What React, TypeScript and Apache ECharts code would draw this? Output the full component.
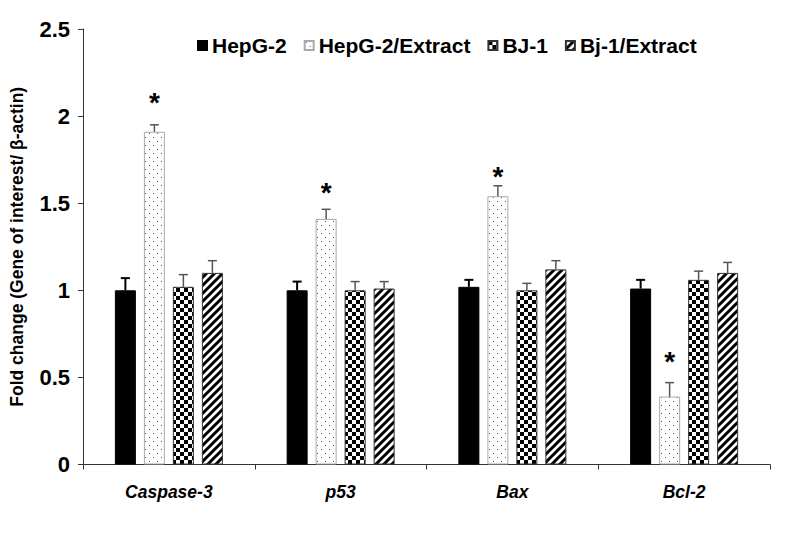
import React, { useEffect, useRef } from 'react';
import * as echarts from 'echarts';

const categories = ['Caspase-3', 'p53', 'Bax', 'Bcl-2'];
const seriesNames = ['HepG-2', 'HepG-2/Extract', 'BJ-1', 'Bj-1/Extract'];

const hepg2 = [1.0, 1.0, 1.02, 1.01];
const hepg2Err = [0.07, 0.05, 0.04, 0.05];
const hepg2Extract = [1.91, 1.41, 1.54, 0.39];
const hepg2ExtractErr = [0.04, 0.055, 0.06, 0.08];
const bj1 = [1.02, 1.0, 1.0, 1.06];
const bj1Err = [0.07, 0.05, 0.04, 0.05];
const bj1Extract = [1.1, 1.01, 1.12, 1.1];
const bj1ExtractErr = [0.07, 0.04, 0.05, 0.06];

// significance markers (*) drawn above HepG-2/Extract bars, at these y levels
const asteriskLevels = [2.1, 1.58, 1.67, 0.61];

const yMin = 0;
const yMax = 2.5;
const yInterval = 0.5;

const FONT = '"Liberation Sans", Arial, sans-serif';
const BAR_W = 21;
const BAR_GAP = 8;

function makeTile(w: number, h: number, draw: (ctx: CanvasRenderingContext2D) => void) {
  const c = document.createElement('canvas');
  c.width = w;
  c.height = h;
  const ctx = c.getContext('2d')!;
  ctx.fillStyle = '#ffffff';
  ctx.fillRect(0, 0, w, h);
  draw(ctx);
  return { image: c, repeat: 'repeat', imageWidth: w, imageHeight: h } as any;
}

export default function App() {
  const ref = useRef<HTMLDivElement>(null);
  useEffect(() => {
    if (!ref.current) return;
    const chart = echarts.init(ref.current, undefined, { renderer: 'svg' });

    const dots = makeTile(8, 8, (ctx) => {
      ctx.fillStyle = '#555';
      ctx.fillRect(1, 1, 1, 1);
      ctx.fillRect(5, 5, 1, 1);
    });
    const checker = makeTile(8, 8, (ctx) => {
      ctx.fillStyle = '#000';
      ctx.fillRect(0, 0, 4, 4);
      ctx.fillRect(4, 4, 4, 4);
    });
    const stripes = makeTile(8, 8, (ctx) => {
      ctx.strokeStyle = '#000';
      ctx.lineWidth = 3;
      ctx.beginPath();
      ctx.moveTo(-2, 10); ctx.lineTo(10, -2);
      ctx.moveTo(-6, 6); ctx.lineTo(6, -6);
      ctx.moveTo(2, 14); ctx.lineTo(14, 2);
      ctx.stroke();
    });

    const values = [hepg2, hepg2Extract, bj1, bj1Extract];
    const errors = [hepg2Err, hepg2ExtractErr, bj1Err, bj1ExtractErr];
    const fills: any[] = ['#000000', dots, checker, stripes];
    const borders = ['#000000', '#aaaaaa', '#333333', '#333333'];
    const errColors = ['#000000', '#555555', '#555555', '#555555'];

    const errData: number[][] = [];
    values.forEach((arr, s) => {
      arr.forEach((v, c) => errData.push([c, v, errors[s][c], s]));
    });
    const starData = asteriskLevels.map((lv, c) => [c, lv]);

    const barSeries = seriesNames.map((name, s) => ({
      name,
      type: 'bar',
      data: values[s],
      barWidth: BAR_W,
      barGap: (BAR_GAP / BAR_W) * 100 + '%',
      itemStyle: { color: fills[s], borderColor: borders[s], borderWidth: 1 },
    }));

    const offset = (s: number) => (s - 1.5) * (BAR_W + BAR_GAP);

    chart.setOption({
      animation: false,
      backgroundColor: '#ffffff',
      grid: { left: 83, right: 25, top: 29, bottom: 95.5, containLabel: false, outerBoundsMode: 'none' },
      legend: {
        data: seriesNames,
        left: 192,
        top: 30,
        icon: 'rect',
        itemWidth: 9,
        itemHeight: 9,
        itemGap: 17,
        textStyle: { fontFamily: FONT, fontWeight: 'bold', fontSize: 21, color: '#000' },
      },
      xAxis: {
        type: 'category',
        data: categories,
        axisLine: { lineStyle: { color: '#333', width: 1 } },
        axisTick: { show: true, length: 5, lineStyle: { color: '#333' } },
        axisLabel: {
          fontFamily: FONT,
          fontWeight: 'bold',
          fontStyle: 'italic',
          fontSize: 17.5,
          color: '#000',
          margin: 18,
        },
      },
      yAxis: {
        type: 'value',
        min: yMin,
        max: yMax,
        interval: yInterval,
        name: 'Fold change (Gene of interest/ β-actin)',
        nameLocation: 'middle',
        nameGap: 57,
        nameTextStyle: { fontFamily: FONT, fontWeight: 'bold', fontSize: 17.5, color: '#000' },
        axisLine: { show: true, lineStyle: { color: '#333', width: 1 } },
        axisTick: { show: true, length: 5, lineStyle: { color: '#333' } },
        splitLine: { show: false },
        axisLabel: { fontFamily: FONT, fontWeight: 'bold', fontSize: 22, color: '#000', margin: 13 },
      },
      series: [
        ...barSeries,
        {
          type: 'custom',
          name: 'err',
          data: errData,
          z: 5,
          renderItem: (params: any, api: any) => {
            const c = api.value(0);
            const v = api.value(1);
            const e = api.value(2);
            const s = api.value(3);
            const base = api.coord([c, v]);
            const top = api.coord([c, v + e]);
            const x = base[0] + offset(s);
            const style = { stroke: errColors[s], lineWidth: s === 0 ? 2 : 1.5 };
            return {
              type: 'group',
              children: [
                { type: 'line', shape: { x1: x, y1: base[1], x2: x, y2: top[1] }, style },
                { type: 'line', shape: { x1: x - 4.5, y1: top[1], x2: x + 4.5, y2: top[1] }, style },
              ],
            };
          },
        },
        {
          type: 'custom',
          name: 'sig',
          data: starData,
          z: 5,
          renderItem: (params: any, api: any) => {
            const c = api.value(0);
            const lv = api.value(1);
            const p = api.coord([c, lv]);
            const fs = 28;
            return {
              type: 'text',
              x: p[0] + offset(1),
              y: p[1] + fs * 0.12,
              style: {
                text: '*',
                fontFamily: FONT,
                fontWeight: 'bold',
                fontSize: fs,
                fill: '#000',
                align: 'center',
                verticalAlign: 'middle',
              },
            };
          },
        },
      ],
    });
    return () => chart.dispose();
  }, []);
  return (
    <div
      ref={ref}
      style={{ position: 'absolute', left: 0, top: 0, width: 795, height: 560 }}
    />
  );
}
